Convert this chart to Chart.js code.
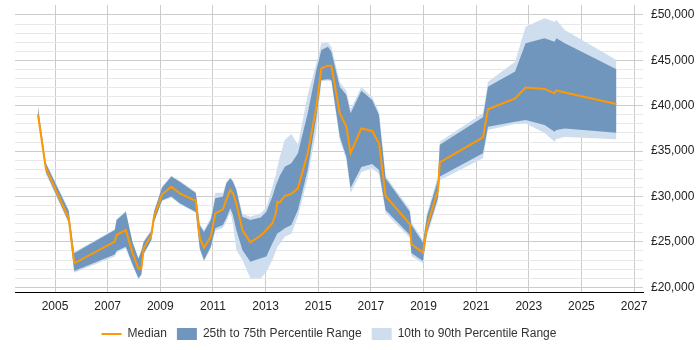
<!DOCTYPE html>
<html>
<head>
<meta charset="utf-8">
<script src="https://cdn.jsdelivr.net/npm/chart.js@4/dist/chart.umd.min.js"></script>
<style>
  html, body { margin: 0; padding: 0; background: #fff; }
</style>
</head>
<body>
<canvas id="myChart" width="700" height="350"></canvas>
<script>
// decimal years of each sample
var years = [2004.35,2004.65,2005.52,2005.73,2007.27,2007.34,2007.69,2007.95,2008.17,2008.28,
             2008.37,2008.66,2008.76,2009.07,2009.42,2009.74,2010.35,2010.50,2010.66,2010.92,
             2011.09,2011.38,2011.51,2011.66,2011.76,2011.89,2012.12,2012.42,2012.82,2013.03,
             2013.26,2013.39,2013.45,2013.54,2013.73,2013.98,2014.23,2014.60,2014.93,2015.12,
             2015.37,2015.50,2015.82,2016.07,2016.23,2016.64,2017.05,2017.31,2017.56,2018.48,
             2018.54,2018.98,2019.13,2019.55,2019.62,2021.26,2021.45,2022.48,2022.88,2023.60,
             2023.98,2024.05,2024.37,2026.33];

var median = [39060,33110,27600,22645,25030,25760,26310,23750,22050,22090,
              24300,25760,27780,30245,31085,30355,29510,25400,24370,25580,
              28150,28590,29690,30720,30355,29250,26310,24955,25700,26310,
              27050,28150,29440,29330,30060,30280,30910,34760,39900,44130,
              44420,44420,39170,37700,34800,37500,37220,35860,30060,26970,
              24770,23810,26680,30720,33770,36530,39610,40800,42000,41850,
              41370,41680,41470,40200];

var p25 = [39000,32700,27200,21800,23600,24000,24470,22500,21000,21400,
           23700,25200,27200,29600,30000,29250,28300,24300,23000,24470,
           26500,26860,27600,28700,27970,26310,24110,22820,23200,23380,
           24850,25600,25950,26100,26500,26860,28520,32920,38800,42840,
           42920,42840,36590,34390,30940,33250,33580,32920,28520,25760,
           23780,22900,25950,29840,32200,34760,37700,38250,38430,37880,
           37140,37330,37490,37030];

var p75 = [39900,33660,28400,23750,26300,27400,28300,24900,23150,24000,
           25000,26200,28300,31000,32200,31640,30400,26800,26100,27410,
           29800,29990,31460,32010,31640,30720,27780,27410,27700,28330,
           29990,31200,31640,32300,33290,33660,34760,39170,43940,46140,
           46510,45960,42100,41190,39170,41660,40640,38980,32000,28330,
           26860,24920,27780,31820,35700,38730,42100,43760,46880,47430,
           47060,47430,46880,44020];

var p10 = [38900,32500,27000,21600,23400,23800,24300,22300,20900,21300,
           23600,25100,27100,29500,29900,29150,28200,24100,22800,24300,
           26200,26570,27230,28330,27000,24110,23010,20990,20990,21720,
           23010,24000,24470,24800,25580,25900,27800,32010,37330,42660,
           42770,42660,36230,34030,30390,32700,33110,32480,28190,25430,
           23450,22650,25600,29510,31800,34210,37330,37990,38070,37000,
           36040,36340,36560,36300];

var p90 = [40100,33800,28600,23900,26400,27500,28400,25000,23250,24100,
           25100,26300,28400,31100,32300,31750,30500,27000,26300,27700,
           30420,30420,31600,32120,31800,30900,28100,27780,28150,28800,
           31090,32400,33290,34390,36230,36900,35700,41190,44680,46880,
           46950,46510,42620,41630,39640,42070,40970,39310,32260,28620,
           27190,25210,28150,32260,36050,39170,42650,44850,48710,49640,
           49260,49450,48350,45040];

var yearTicks = [2005, 2007, 2009, 2011, 2013, 2015, 2017, 2019, 2021, 2023, 2025, 2027];

var seriesLabels = ['Median', '25th to 75th Percentile Range', '10th to 90th Percentile Range'];

var orange = '#FF9900';
var darkBand = 'rgb(112,150,190)';
var lightBand = 'rgb(206,222,238)';
var noColor = 'rgba(0,0,0,0)';
var font = { family: '"Liberation Sans", Arial, sans-serif', size: 12 };

var toPoints = function(values) {
    return values.map(function(v, i) { return { x: years[i], y: v }; });
};

var ctx = document.getElementById('myChart');

var myChart = new Chart(ctx, {
    type: 'line',
    data: {
        datasets: [{
            label: seriesLabels[0],
            data: toPoints(median),
            borderColor: orange,
            backgroundColor: orange,
            borderWidth: 2,
            pointRadius: 0,
            pointStyle: 'line',
            fill: false
        }, {
            label: seriesLabels[1],
            data: toPoints(p75),
            borderColor: noColor,
            borderWidth: 0,
            backgroundColor: darkBand,
            pointRadius: 0,
            pointStyle: 'rect',
            fill: '+1'
        }, {
            label: 'p25',
            data: toPoints(p25),
            borderColor: noColor,
            borderWidth: 0,
            pointRadius: 0,
            fill: false
        }, {
            label: seriesLabels[2],
            data: toPoints(p90),
            borderColor: noColor,
            borderWidth: 0,
            backgroundColor: lightBand,
            pointRadius: 0,
            pointStyle: 'rect',
            fill: '+1'
        }, {
            label: 'p10',
            data: toPoints(p10),
            borderColor: noColor,
            borderWidth: 0,
            pointRadius: 0,
            fill: false
        }]
    },
    options: {
        responsive: false,
        animation: false,
        devicePixelRatio: 1,
        layout: { padding: { top: 5, left: 15, right: 0, bottom: 0 } },
        plugins: {
            tooltip: { enabled: false },
            legend: {
                position: 'bottom',
                fullSize: false,
                labels: {
                    usePointStyle: true,
                    pointStyleWidth: 20,
                    boxHeight: 12,
                    padding: 10,
                    color: '#333',
                    font: font,
                    filter: function(item) {
                        return item.datasetIndex !== 2 && item.datasetIndex !== 4;
                    }
                }
            }
        },
        scales: {
            x: {
                type: 'linear',
                min: 2003.48,
                max: 2027.34,
                afterBuildTicks: function(scale) {
                    scale.ticks = yearTicks.map(function(v) { return { value: v }; });
                },
                afterFit: function(scale) { scale.height = 26; },
                ticks: {
                    autoSkip: false,
                    maxRotation: 0,
                    padding: 7,
                    color: '#222',
                    font: font,
                    callback: function(v) { return String(v); }
                },
                grid: { color: '#cccccc', drawTicks: false },
                border: { display: true, color: '#000', width: 1 }
            },
            y: {
                position: 'right',
                min: 19480,
                max: 51100,
                afterBuildTicks: function(scale) {
                    var t = [];
                    for (var v = 20000; v <= 50000; v += 1000) t.push({ value: v });
                    scale.ticks = t;
                },
                afterFit: function(scale) {
                    scale.width = 57;
                    // the top label sits below the plot top, so no extra margin is needed
                    scale.paddingTop = 0;
                    scale.paddingBottom = 0;
                },
                ticks: {
                    autoSkip: false,
                    padding: 8,
                    color: '#222',
                    font: font,
                    callback: function(v) {
                        return v % 5000 === 0 ? '£' + v.toLocaleString('en-GB') : '';
                    }
                },
                grid: {
                    drawTicks: false,
                    color: function(c) {
                        return c.tick && c.tick.value % 5000 === 0 ? '#cccccc' : '#e8e8e8';
                    }
                },
                border: { display: false }
            }
        }
    }
});
</script>
</body>
</html>
